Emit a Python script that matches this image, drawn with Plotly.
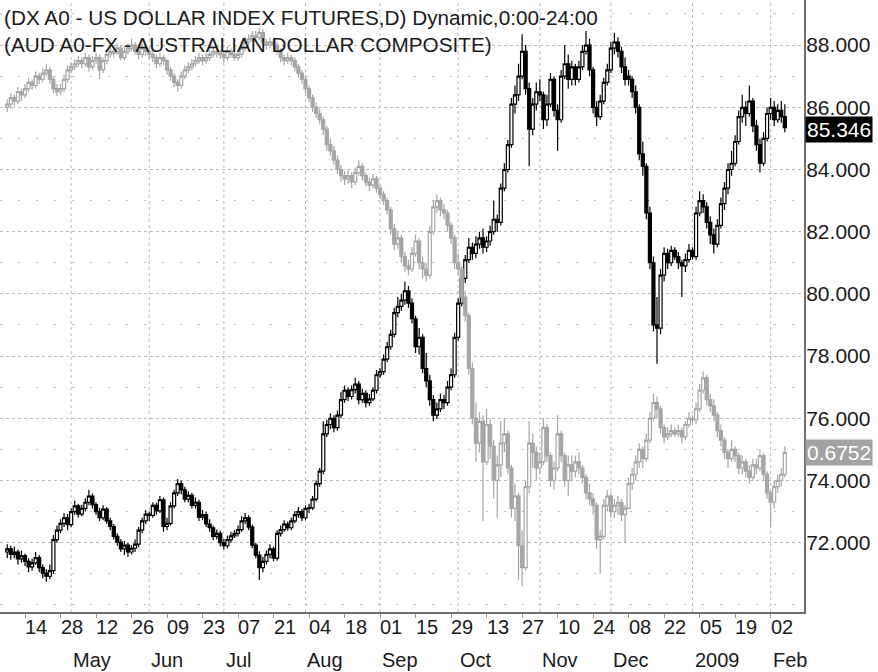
import pandas as pd
import plotly.graph_objects as go

# ---------------- categories (trading days) ----------------
dates = [d.strftime("%Y-%m-%d") for d in pd.bdate_range("2008-04-07", "2009-02-06")]

day_ticks = ["2008-04-14", "2008-04-28", "2008-05-12", "2008-05-26", "2008-06-09", "2008-06-23",
             "2008-07-07", "2008-07-21", "2008-08-04", "2008-08-18", "2008-09-01", "2008-09-15",
             "2008-09-29", "2008-10-13", "2008-10-27", "2008-11-10", "2008-11-24", "2008-12-08",
             "2008-12-22", "2009-01-05", "2009-01-19", "2009-02-02"]
day_labels = ["14", "28", "12", "26", "09", "23", "07", "21", "04", "18", "01", "15",
              "29", "13", "27", "10", "24", "08", "22", "05", "19", "02"]
month_ticks = ["2008-05-01", "2008-06-02", "2008-07-01", "2008-08-01", "2008-09-01",
               "2008-10-01", "2008-11-03", "2008-12-01", "2009-01-01", "2009-02-02"]
month_labels = ["May", "Jun", "Jul", "Aug", "Sep", "Oct", "Nov", "Dec", "2009", "Feb"]
y_ticks = [72, 74, 76, 78, 80, 82, 84, 86, 88]

# ---------------- DX A0 (US Dollar Index futures), one row per week ----------------
dx_open = [
    71.70, 71.80, 71.62, 71.70, 71.48,  71.58, 71.40, 71.22, 71.35, 71.52,
    71.20, 71.02, 70.92, 71.10, 72.10,  72.40, 72.62, 72.80, 72.58, 73.00,
    73.18, 72.92, 73.10, 73.30, 73.50,  73.22, 73.00, 72.80, 73.08, 72.70,
    72.52, 72.20, 72.02, 71.80, 71.92,  71.70, 71.82, 71.95, 72.40, 72.70,
    72.92, 72.88, 73.20, 73.02, 73.38,  72.52, 72.62, 73.18, 73.60, 73.90,
    73.70, 73.40, 73.52, 73.20, 73.30,  72.82, 72.90, 72.60, 72.48, 72.20,
    72.30, 72.00, 71.90, 72.10, 72.22,  72.30, 72.42, 72.70, 72.80, 72.50,
    71.92, 71.60, 71.20, 71.40, 71.62,  71.80, 71.50, 72.30, 72.42, 72.60,
    72.48, 72.70, 72.90, 73.00, 72.80,  73.10, 73.12, 73.40, 73.90, 74.30,
    75.50, 75.80, 76.00, 75.70, 76.10,  76.60, 76.90, 76.70, 76.92, 77.10,
    76.60, 76.80, 76.50, 76.62, 76.90,  77.40, 77.50, 77.90, 78.30, 78.70,
    79.40, 79.60, 79.80, 80.10, 79.70,  79.20, 78.30, 78.60, 77.60, 77.20,
    76.60, 76.10, 76.30, 76.60, 76.50,  77.00, 77.40, 78.60, 79.70, 80.50,
    81.10, 81.50, 81.30, 81.60, 81.80,  81.50, 81.70, 82.00, 82.40, 82.30,
    83.40, 84.00, 84.80, 86.10, 86.40,  87.00, 87.80, 86.60, 85.30, 86.10,
    86.50, 86.40, 85.60, 86.10, 86.90,  85.90, 85.60, 87.00, 87.40, 86.90,
    87.30, 86.90, 87.30, 87.80, 88.00,  87.20, 86.00, 85.70, 86.20, 86.80,
    87.20, 87.90, 88.10, 87.80, 87.30,  87.00, 86.90, 86.50, 86.00, 84.50,
    84.10, 82.60, 81.00, 79.00, 78.90,  80.60, 81.30, 81.00, 81.40, 81.20,
    81.00, 80.90, 81.10, 81.40, 81.20,  82.60, 83.00, 82.80, 82.30, 81.90,
    81.60, 82.20, 82.90, 83.40, 84.00,  84.20, 84.90, 85.70, 86.00, 85.80,
    86.20, 85.40, 84.80, 84.20, 85.00,  85.80, 86.00, 85.60, 85.90, 85.70,
]
dx_high = [
    71.95, 71.90, 71.88, 71.78, 71.75,  71.65, 71.50, 71.48, 71.70, 71.60,
    71.30, 71.15, 71.30, 72.25, 72.55,  72.75, 72.95, 72.92, 73.10, 73.35,
    73.25, 73.22, 73.42, 73.70, 73.58,  73.30, 73.12, 73.20, 73.15, 72.80,
    72.60, 72.30, 72.12, 72.05, 72.00,  71.92, 72.10, 72.50, 72.80, 73.05,
    73.00, 73.30, 73.28, 73.50, 73.45,  72.80, 73.30, 73.70, 74.05, 74.00,
    73.80, 73.65, 73.60, 73.45, 73.38,  73.05, 73.00, 72.75, 72.55, 72.42,
    72.38, 72.12, 72.22, 72.35, 72.40,  72.55, 72.85, 72.95, 72.88, 72.58,
    72.00, 71.72, 71.55, 71.75, 71.95,  71.88, 72.40, 72.55, 72.72, 72.68,
    72.80, 73.02, 73.15, 73.08, 73.20,  73.25, 73.50, 74.00, 74.40, 75.90,
    75.95, 76.15, 76.10, 76.25, 76.85,  77.05, 77.00, 77.05, 77.30, 77.20,
    76.95, 76.90, 76.78, 77.00, 77.55,  77.62, 78.05, 78.45, 78.85, 79.55,
    79.90, 80.00, 80.40, 80.25, 79.85,  79.30, 78.90, 78.70, 78.10, 77.40,
    76.75, 76.50, 76.80, 76.75, 77.20,  77.60, 78.75, 79.85, 80.65, 81.25,
    81.80, 81.65, 81.85, 82.00, 82.10,  81.85, 82.20, 83.00, 82.55, 83.55,
    84.20, 84.95, 86.30, 86.70, 87.40,  88.35, 88.00, 86.80, 86.30, 86.80,
    86.90, 86.50, 86.40, 87.10, 87.00,  86.10, 87.20, 88.00, 87.70, 87.50,
    87.40, 87.50, 88.00, 88.45, 88.20,  87.30, 86.20, 86.40, 86.95, 87.40,
    88.10, 88.40, 88.25, 87.95, 87.60,  87.20, 87.00, 86.70, 86.10, 84.90,
    84.20, 82.80, 81.20, 79.90, 80.80,  81.50, 81.45, 81.55, 81.50, 81.35,
    81.10, 81.30, 81.60, 81.50, 82.80,  83.30, 83.20, 82.95, 82.50, 82.10,
    82.40, 83.10, 83.60, 84.20, 84.60,  85.10, 85.90, 86.40, 86.20, 86.70,
    86.30, 85.60, 85.00, 85.20, 86.00,  86.30, 86.20, 86.10, 86.20, 86.10,
]
dx_low = [
    71.50, 71.45, 71.50, 71.30, 71.35,  71.25, 71.05, 71.10, 71.28, 71.05,
    70.85, 70.75, 70.82, 71.00, 72.00,  72.30, 72.50, 72.40, 72.50, 72.90,
    72.80, 72.85, 73.00, 73.20, 73.10,  72.90, 72.70, 72.72, 72.60, 72.40,
    72.10, 71.90, 71.70, 71.60, 71.55,  71.62, 71.70, 71.85, 72.30, 72.60,
    72.70, 72.80, 72.90, 72.95, 72.35,  72.40, 72.55, 73.10, 73.50, 73.55,
    73.30, 73.30, 73.10, 73.10, 72.70,  72.72, 72.50, 72.35, 72.08, 72.10,
    71.88, 71.78, 71.82, 72.00, 72.15,  72.20, 72.35, 72.60, 72.40, 71.82,
    71.50, 70.80, 71.05, 71.30, 71.50,  71.40, 71.42, 72.20, 72.35, 72.38,
    72.40, 72.62, 72.80, 72.70, 72.72,  72.95, 73.05, 73.32, 73.80, 74.20,
    75.40, 75.65, 75.55, 75.60, 76.00,  76.50, 76.55, 76.60, 76.80, 76.45,
    76.50, 76.35, 76.40, 76.55, 76.80,  77.30, 77.40, 77.80, 78.20, 78.60,
    79.25, 79.45, 79.65, 79.55, 79.05,  78.10, 78.05, 77.45, 77.00, 76.40,
    75.90, 75.98, 76.20, 76.30, 76.40,  76.90, 77.30, 78.50, 79.60, 80.35,
    81.00, 81.10, 81.15, 81.45, 81.30,  81.35, 81.55, 81.90, 82.00, 82.20,
    83.30, 83.90, 84.70, 85.80, 86.20,  86.90, 86.40, 84.10, 85.10, 85.90,
    86.20, 85.30, 85.40, 86.00, 85.70,  84.60, 85.50, 86.90, 86.60, 86.70,
    86.70, 86.80, 87.20, 87.70, 87.00,  85.80, 85.40, 85.60, 86.10, 86.70,
    87.10, 87.70, 87.60, 87.10, 86.70,  86.70, 86.30, 85.80, 84.30, 83.80,
    82.40, 80.80, 78.80, 77.75, 78.70,  80.40, 80.80, 80.90, 81.10, 80.80,
    79.90, 80.70, 81.00, 81.10, 81.10,  82.50, 82.60, 82.10, 81.60, 81.30,
    81.50, 82.10, 82.70, 83.20, 83.80,  84.10, 84.80, 85.50, 85.40, 85.70,
    85.20, 84.60, 83.90, 84.10, 84.90,  85.60, 85.40, 85.50, 85.50, 85.20,
]
dx_close = [
    71.80, 71.62, 71.70, 71.48, 71.58,  71.40, 71.22, 71.35, 71.52, 71.20,
    71.02, 70.92, 71.10, 72.10, 72.40,  72.62, 72.80, 72.58, 73.00, 73.18,
    72.92, 73.10, 73.30, 73.50, 73.22,  73.00, 72.80, 73.08, 72.70, 72.52,
    72.20, 72.02, 71.80, 71.92, 71.70,  71.82, 71.95, 72.40, 72.70, 72.92,
    72.88, 73.20, 73.02, 73.38, 72.52,  72.62, 73.18, 73.60, 73.90, 73.70,
    73.40, 73.52, 73.20, 73.30, 72.82,  72.90, 72.60, 72.48, 72.20, 72.30,
    72.00, 71.90, 72.10, 72.22, 72.30,  72.42, 72.70, 72.80, 72.50, 71.92,
    71.60, 71.20, 71.40, 71.62, 71.80,  71.50, 72.30, 72.42, 72.60, 72.48,
    72.70, 72.90, 73.00, 72.80, 73.10,  73.12, 73.40, 73.90, 74.30, 75.50,
    75.80, 76.00, 75.70, 76.10, 76.60,  76.90, 76.70, 76.92, 77.10, 76.60,
    76.80, 76.50, 76.62, 76.90, 77.40,  77.50, 77.90, 78.30, 78.70, 79.40,
    79.60, 79.80, 80.10, 79.70, 79.20,  78.30, 78.60, 77.60, 77.20, 76.60,
    76.10, 76.30, 76.60, 76.50, 77.00,  77.40, 78.60, 79.70, 80.50, 81.10,
    81.50, 81.30, 81.60, 81.80, 81.50,  81.70, 82.00, 82.40, 82.30, 83.40,
    84.00, 84.80, 86.10, 86.40, 87.00,  87.80, 86.60, 85.30, 86.10, 86.50,
    86.40, 85.60, 86.10, 86.90, 85.90,  85.60, 87.00, 87.40, 86.90, 87.30,
    86.90, 87.30, 87.80, 88.00, 87.20,  86.00, 85.70, 86.20, 86.80, 87.20,
    87.90, 88.10, 87.80, 87.30, 86.90,  86.90, 86.50, 86.00, 84.50, 84.10,
    82.60, 81.00, 79.00, 78.90, 80.60,  81.30, 81.00, 81.40, 81.20, 81.00,
    80.90, 81.10, 81.40, 81.20, 82.60,  83.00, 82.80, 82.30, 81.90, 81.60,
    82.20, 82.90, 83.40, 84.00, 84.20,  84.90, 85.70, 86.00, 85.80, 86.20,
    85.40, 84.80, 84.20, 85.00, 85.80,  86.00, 85.60, 85.90, 85.70, 85.346,
]

# ---------------- AUD A0-FX (Australian dollar composite), one row per week ----------------
aud_open = [
    .9305, .9328, .9374, .9351, .9420,  .9397, .9443, .9489, .9466, .9535,
    .9512, .9558, .9581, .9512, .9443,  .9420, .9443, .9512, .9581, .9604,
    .9627, .9650, .9627, .9673, .9604,  .9650, .9673, .9581, .9650, .9696,
    .9719, .9708, .9742, .9673, .9719,  .9742, .9765, .9719, .9696, .9742,
    .9719, .9696, .9673, .9627, .9673,  .9650, .9581, .9535, .9489, .9466,
    .9535, .9581, .9604, .9627, .9650,  .9673, .9650, .9673, .9696, .9719,
    .9708, .9696, .9673, .9719, .9696,  .9673, .9696, .9742, .9788, .9811,
    .9834, .9823, .9857, .9788, .9765,  .9788, .9765, .9719, .9673, .9650,
    .9673, .9650, .9604, .9558, .9512,  .9443, .9374, .9305, .9259, .9213,
    .9144, .9029, .8983, .8914, .8845,  .8799, .8776, .8799, .8753, .8822,
    .8868, .8799, .8753, .8730, .8776,  .8707, .8661, .8615, .8546, .8408,
    .8293, .8339, .8201, .8132, .8109,  .8224, .8316, .8155, .8109, .8063,
    .8385, .8569, .8615, .8546, .8523,  .8431, .8339, .8155, .8109, .7902,
    .7764, .7373, .7005, .6821, .6982,  .6683, .6959, .6798, .6545, .6660,
    .6821, .6890, .6637, .6338, .6430,  .6062, .5901, .6499, .6821, .6752,
    .6637, .6683, .6936, .6729, .6545,  .6637, .6890, .6729, .6545, .6660,
    .6614, .6683, .6637, .6568, .6453,  .6407, .6361, .6108, .6131, .6361,
    .6430, .6315, .6361, .6384, .6292,  .6338, .6522, .6591, .6683, .6775,
    .6706, .6844, .7005, .7120, .7074,  .6936, .6867, .6890, .6913, .6890,
    .6913, .6867, .6959, .7005, .6994,  .7074, .7212, .7304, .7143, .7097,
    .7028, .6913, .6844, .6752, .6706,  .6775, .6729, .6637, .6683, .6614,
    .6568, .6660, .6637, .6729, .6591,  .6453, .6384, .6499, .6545, .6591,
]
aud_high = [
    .9363, .9409, .9397, .9455, .9443,  .9478, .9524, .9512, .9570, .9558,
    .9593, .9627, .9604, .9535, .9478,  .9478, .9547, .9616, .9639, .9662,
    .9685, .9673, .9708, .9696, .9685,  .9708, .9696, .9673, .9731, .9754,
    .9765, .9777, .9765, .9754, .9777,  .9811, .9788, .9742, .9777, .9765,
    .9742, .9731, .9696, .9708, .9696,  .9662, .9604, .9558, .9512, .9570,
    .9616, .9639, .9662, .9685, .9708,  .9696, .9708, .9731, .9754, .9754,
    .9731, .9719, .9754, .9742, .9719,  .9731, .9777, .9823, .9846, .9869,
    .9869, .9892, .9880, .9811, .9823,  .9811, .9788, .9742, .9696, .9708,
    .9696, .9673, .9627, .9581, .9535,  .9466, .9397, .9340, .9294, .9236,
    .9167, .9075, .9018, .8949, .8880,  .8834, .8845, .8822, .8857, .8914,
    .8891, .8822, .8788, .8811, .8799,  .8730, .8684, .8638, .8569, .8443,
    .8385, .8362, .8236, .8178, .8270,  .8362, .8339, .8201, .8155, .8431,
    .8615, .8661, .8638, .8592, .8546,  .8454, .8362, .8224, .8132, .7948,
    .7787, .7419, .7120, .7051, .7028,  .7074, .7005, .6844, .6729, .6982,
    .7005, .6913, .6660, .6522, .6453,  .6177, .6545, .6982, .6890, .6798,
    .6752, .7005, .6959, .6752, .6683,  .7028, .6913, .6752, .6729, .6729,
    .6729, .6752, .6660, .6591, .6522,  .6453, .6384, .6177, .6407, .6476,
    .6453, .6407, .6430, .6407, .6361,  .6568, .6637, .6729, .6821, .6798,
    .6890, .7051, .7189, .7166, .7097,  .6959, .6936, .6959, .6936, .6959,
    .6936, .6982, .7051, .7028, .7120,  .7258, .7350, .7327, .7189, .7143,
    .7051, .6959, .6867, .6775, .6844,  .6798, .6752, .6729, .6706, .6660,
    .6706, .6706, .6775, .6752, .6614,  .6476, .6545, .6591, .6637, .6798,
]
aud_low = [
    .9271, .9294, .9317, .9328, .9351,  .9374, .9420, .9432, .9443, .9478,
    .9489, .9535, .9478, .9409, .9386,  .9397, .9420, .9489, .9558, .9581,
    .9604, .9593, .9604, .9570, .9581,  .9627, .9512, .9558, .9627, .9673,
    .9673, .9696, .9650, .9650, .9696,  .9719, .9696, .9662, .9673, .9685,
    .9662, .9639, .9593, .9604, .9616,  .9547, .9501, .9455, .9420, .9443,
    .9512, .9558, .9581, .9604, .9627,  .9616, .9627, .9650, .9673, .9673,
    .9662, .9639, .9650, .9673, .9650,  .9650, .9673, .9719, .9765, .9788,
    .9788, .9800, .9765, .9731, .9742,  .9731, .9696, .9639, .9616, .9627,
    .9616, .9570, .9524, .9478, .9409,  .9340, .9271, .9225, .9179, .9098,
    .8983, .8949, .8880, .8811, .8753,  .8730, .8742, .8707, .8730, .8799,
    .8765, .8719, .8684, .8707, .8673,  .8627, .8581, .8512, .8362, .8247,
    .8259, .8155, .8086, .8063, .8086,  .8201, .8109, .8040, .8017, .8040,
    .8362, .8523, .8500, .8477, .8385,  .8293, .8109, .8063, .7856, .7718,
    .7327, .6959, .6683, .6752, .6246,  .6660, .6706, .6407, .6269, .6568,
    .6752, .6591, .6269, .6246, .5809,  .5763, .5878, .6453, .6637, .6545,
    .6591, .6660, .6683, .6499, .6476,  .6614, .6683, .6499, .6430, .6545,
    .6568, .6591, .6522, .6407, .6361,  .6292, .6039, .5855, .6108, .6315,
    .6269, .6269, .6292, .6246, .6085,  .6338, .6476, .6545, .6637, .6637,
    .6683, .6821, .6982, .7005, .6890,  .6821, .6844, .6867, .6867, .6867,
    .6821, .6844, .6936, .6971, .6959,  .7051, .7189, .7097, .7051, .6982,
    .6867, .6798, .6706, .6637, .6683,  .6683, .6591, .6591, .6568, .6522,
    .6545, .6591, .6614, .6545, .6407,  .6200, .6338, .6453, .6499, .6568,
]
aud_close = [
    .9328, .9374, .9351, .9420, .9397,  .9443, .9489, .9466, .9535, .9512,
    .9558, .9581, .9512, .9443, .9420,  .9443, .9512, .9581, .9604, .9627,
    .9650, .9627, .9673, .9604, .9650,  .9673, .9581, .9650, .9696, .9719,
    .9708, .9742, .9673, .9719, .9742,  .9765, .9719, .9696, .9742, .9719,
    .9696, .9673, .9627, .9673, .9650,  .9581, .9535, .9489, .9466, .9535,
    .9581, .9604, .9627, .9650, .9673,  .9650, .9673, .9696, .9719, .9708,
    .9696, .9673, .9719, .9696, .9673,  .9696, .9742, .9788, .9811, .9834,
    .9823, .9857, .9788, .9765, .9788,  .9765, .9719, .9673, .9650, .9673,
    .9650, .9604, .9558, .9512, .9443,  .9374, .9305, .9259, .9213, .9144,
    .9029, .8983, .8914, .8845, .8799,  .8776, .8799, .8753, .8822, .8868,
    .8799, .8753, .8730, .8776, .8707,  .8661, .8615, .8546, .8408, .8293,
    .8339, .8201, .8132, .8109, .8224,  .8316, .8155, .8109, .8063, .8385,
    .8569, .8615, .8546, .8523, .8431,  .8339, .8155, .8109, .7902, .7764,
    .7373, .7005, .6821, .6982, .6683,  .6959, .6798, .6545, .6660, .6821,
    .6890, .6637, .6338, .6430, .6062,  .5901, .6499, .6821, .6752, .6637,
    .6683, .6936, .6729, .6545, .6637,  .6890, .6729, .6545, .6660, .6614,
    .6683, .6637, .6568, .6453, .6407,  .6361, .6108, .6131, .6361, .6430,
    .6315, .6361, .6384, .6292, .6338,  .6522, .6591, .6683, .6775, .6706,
    .6844, .7005, .7120, .7074, .6936,  .6867, .6890, .6913, .6890, .6913,
    .6867, .6959, .7005, .6994, .7074,  .7212, .7304, .7143, .7097, .7028,
    .6913, .6844, .6752, .6706, .6775,  .6729, .6637, .6683, .6614, .6568,
    .6660, .6637, .6729, .6591, .6453,  .6384, .6499, .6545, .6591, .6752,
]

# ---------------- styling ----------------
FONT = "Liberation Sans, Arial, Helvetica, sans-serif"
GRAY = "#a6a6a6"
GRID = "#bcbcbc"
AXIS = "#6e6e6e"

dx_range = [69.77, 89.45]
# hidden AUD scale laid over the DX scale (0.023 AUD per DX point, last close levels at 74.9)
aud_range = [0.6752 + 0.023 * (dx_range[0] - 74.9), 0.6752 + 0.023 * (dx_range[1] - 74.9)]

fig = go.Figure()
fig.add_trace(go.Candlestick(
    x=dates, open=aud_open, high=aud_high, low=aud_low, close=aud_close,
    yaxis="y2", name="AUD A0-FX",
    increasing=dict(line=dict(color=GRAY, width=1.2), fillcolor="white"),
    decreasing=dict(line=dict(color=GRAY, width=1.2), fillcolor=GRAY),
    whiskerwidth=0, showlegend=False,
))
fig.add_trace(go.Candlestick(
    x=dates, open=dx_open, high=dx_high, low=dx_low, close=dx_close,
    yaxis="y", name="DX A0",
    increasing=dict(line=dict(color="black", width=1.2), fillcolor="white"),
    decreasing=dict(line=dict(color="black", width=1.2), fillcolor="black"),
    whiskerwidth=0, showlegend=False,
))

shapes = []
for m in month_ticks:
    shapes.append(dict(type="line", xref="x", yref="paper", x0=m, x1=m, y0=0, y1=1,
                       line=dict(color=GRID, width=1, dash="dot"), layer="below"))

annotations = [
    dict(text="(DX A0 - US DOLLAR INDEX FUTURES,D) Dynamic,0:00-24:00", xref="paper", yref="paper",
         x=0.003, y=0.9706, xanchor="left", yanchor="middle", showarrow=False,
         font=dict(family=FONT, size=20.75, color="#1a1a1a")),
    dict(text="(AUD A0-FX - AUSTRALIAN DOLLAR COMPOSITE)", xref="paper", yref="paper",
         x=0.003, y=0.9265, xanchor="left", yanchor="middle", showarrow=False,
         font=dict(family=FONT, size=20.75, color="#1a1a1a")),
    dict(text=f"{dx_close[-1]:.3f}", xref="paper", yref="y", x=1, y=dx_close[-1],
         xanchor="left", yanchor="middle", xshift=1, yshift=-2, showarrow=False,
         bgcolor="black", borderpad=1, font=dict(family=FONT, size=21, color="white")),
    dict(text=f"{aud_close[-1]:.4f}", xref="paper", yref="y2", x=1, y=aud_close[-1],
         xanchor="left", yanchor="middle", xshift=1, showarrow=False,
         bgcolor="#a3a3a3", borderpad=1, font=dict(family=FONT, size=21, color="white")),
]
for d, lab in zip(day_ticks, day_labels):
    annotations.append(dict(text=lab, xref="x", yref="paper", x=d, y=-0.0245,
                            xanchor="left", yanchor="middle", xshift=-2, showarrow=False,
                            font=dict(family=FONT, size=20, color="#1a1a1a")))
for m, lab in zip(month_ticks, month_labels):
    annotations.append(dict(text=lab, xref="x", yref="paper", x=m, y=-0.079,
                            xanchor="left", yanchor="middle", showarrow=False,
                            font=dict(family=FONT, size=20, color="#1a1a1a")))

fig.update_layout(
    width=878, height=672,
    margin=dict(l=0, r=74, t=0, b=60),
    paper_bgcolor="white", plot_bgcolor="white",
    font=dict(family=FONT, size=20, color="#1a1a1a"),
    showlegend=False,
    hovermode="x",
    boxgap=0.1, boxgroupgap=0.05,
    shapes=shapes,
    annotations=annotations,
    xaxis=dict(
        type="category", range=[-2.04, 224.4],
        rangeslider=dict(visible=False),
        tickmode="array", tickvals=day_ticks, ticktext=[""] * len(day_ticks),
        ticks="outside", ticklen=4, tickcolor="#999999",
        showgrid=False, zeroline=False,
        showline=True, linecolor=AXIS, linewidth=2,
    ),
    yaxis=dict(
        side="right", range=dx_range,
        tickmode="array", tickvals=y_ticks, ticktext=[f"{v:.3f}" for v in y_ticks],
        ticks="", ticklabelstandoff=-4,
        tickfont=dict(family=FONT, size=21, color="#1a1a1a"),
        showgrid=True, gridcolor=GRID, gridwidth=1, griddash="dot",
        minor=dict(tickmode="linear", tick0=0, dtick=1, showgrid=True,
                   gridcolor=GRID, gridwidth=1, griddash="2px,16px"),
        zeroline=False, showline=True, linecolor=AXIS, linewidth=2,
    ),
    yaxis2=dict(overlaying="y", side="right", range=aud_range, visible=False),
)

fig.write_html("out.html", config={"displayModeBar": False},
               post_script="document.body.style.margin='0px';")
